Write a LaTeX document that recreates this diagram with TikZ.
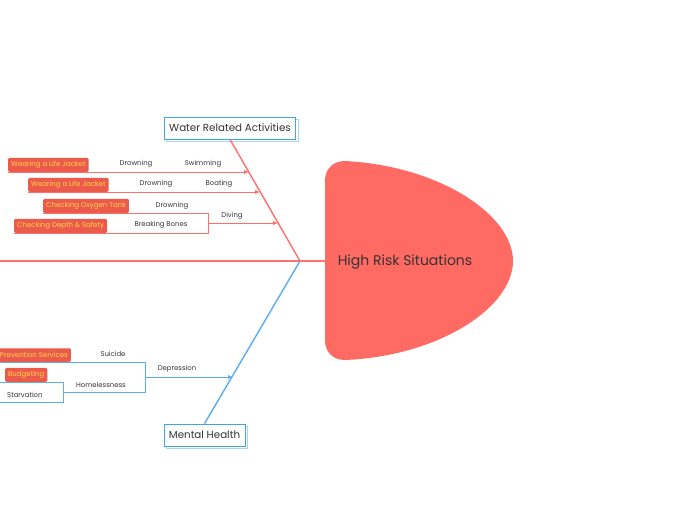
\documentclass[tikz,border=0pt]{standalone}
\usepackage{fontspec}
\setmainfont{Poppins}
\usetikzlibrary{positioning,arrows.meta,shadows}
\definecolor{headred}{HTML}{FF6B63}
\definecolor{bonered}{HTML}{FF6F6B}
\definecolor{tagred}{HTML}{EB5A4B}
\definecolor{tagtext}{HTML}{FFD54A}
\definecolor{boneblue}{HTML}{5AADF2}
\definecolor{boxblue}{HTML}{3FA7DD}
\definecolor{shadowblue}{HTML}{A6D8F2}
\definecolor{ink}{HTML}{333333}

\begin{document}
\begin{tikzpicture}[x=1pt,y=-1pt,
    topic/.style={draw=boxblue,fill=white,line width=0.8pt,inner xsep=5pt,minimum height=22pt,
      text=ink,font=\fontsize{10.3}{11}\selectfont,
      copy shadow={shadow xshift=2.5pt,shadow yshift=-2.5pt,draw=shadowblue,fill=white,line width=0.8pt}},
    tag/.style={fill=tagred,rounded corners=1.2pt,text=tagtext,inner xsep=3pt,minimum height=13.5pt,
      font=\fontsize{7}{8}\selectfont,anchor=south west},
    lbl/.style={text=ink,font=\fontsize{6.9}{8}\selectfont,inner sep=0pt},
    redbone/.style={draw=bonered,line width=1.4pt},
    redline/.style={draw=bonered,line width=0.9pt},
    blueline/.style={draw=boneblue,line width=0.9pt},
    tip/.style={-{Latex[length=5pt,width=4.5pt]}}]
    \useasboundingbox[fill=white] (0,0) rectangle (697,520);

    % Espinha
    \coordinate (spine) at (0,261);
    \coordinate (hub) at (300,261);
    \draw[redbone] (spine) -- (325,261);

    % Cabeca
    \fill[headred] (325,181) .. controls (325,169) and (333,161) .. (345,161)
      .. controls (440,166) and (513,215) .. (513,261)
      .. controls (513,307) and (440,356) .. (345,360)
      .. controls (333,360) and (325,352) .. (325,340) -- cycle;
    \node[text=ink,font=\fontsize{14}{15}\selectfont] (head) at (405,262) {High Risk Situations};

    % Topicos
    \node[topic] (water) at (230,128) {Water Related Activities};
    \node[topic] (mental) at (204.5,435) {Mental Health};
    \draw[redbone] (hub) -- (water.south);
    \draw[boneblue,line width=1.4pt] (hub) -- (mental.north);

    % Swimming
    \coordinate (swA) at (8,172);
    \coordinate (swB) at (249,172);
    \draw[redline,tip] (swA) -- (swB);
    \node[tag] (swTag) at (swA) {Wearing a Life Jacket};
    \node[lbl] (swDr) at (136,164) {Drowning};
    \node[lbl] (sw) at (203,164) {Swimming};

    % Boating
    \coordinate (boA) at (28,192);
    \coordinate (boB) at (260,192);
    \draw[redline,tip] (boA) -- (boB);
    \node[tag] (boTag) at (boA) {Wearing a Life Jacket};
    \node[lbl] (boDr) at (156,184) {Drowning};
    \node[lbl] (bo) at (219,184) {Boating};

    % Diving
    \coordinate (oxA) at (43,213);
    \coordinate (dpA) at (14,233);
    \coordinate (dvA) at (208,223);
    \coordinate (dvB) at (278,223);
    \draw[redline] (oxA) -- (208,213) -- (208,233) -- (dpA);
    \draw[redline,tip] (dvA) -- (dvB);
    \node[tag] (oxTag) at (oxA) {Checking Oxygen Tank};
    \node[tag] (dpTag) at (dpA) {Checking Depth \& Safety};
    \node[lbl] (oxDr) at (172,206) {Drowning};
    \node[lbl] (dpBb) at (161,225) {Breaking Bones};
    \node[lbl] (dv) at (232,216) {Diving};

    % Depression
    \coordinate (suA) at (0,362);
    \coordinate (hoA) at (63,392);
    \coordinate (deA) at (145,377);
    \coordinate (deB) at (233,377);
    \draw[blueline] (suA) -- (145,362) -- (145,392) -- (hoA);
    \draw[blueline,tip] (deA) -- (deB);
    \node[tag,anchor=south east] (suTag) at (71,362) {Prevention Services};
    \node[lbl] (su) at (113,354) {Suicide};
    \node[lbl] (de) at (177,369) {Depression};
    \node[lbl] (ho) at (101,385) {Homelessness};

    % Homelessness
    \coordinate (buA) at (0,382);
    \coordinate (stA) at (0,402);
    \draw[blueline] (buA) -- (63,382) -- (63,402) -- (stA);
    \node[tag] (buTag) at (5,382) {Budgeting};
    \node[lbl,anchor=west] (st) at (7,395) {Starvation};
\end{tikzpicture}
\end{document}
